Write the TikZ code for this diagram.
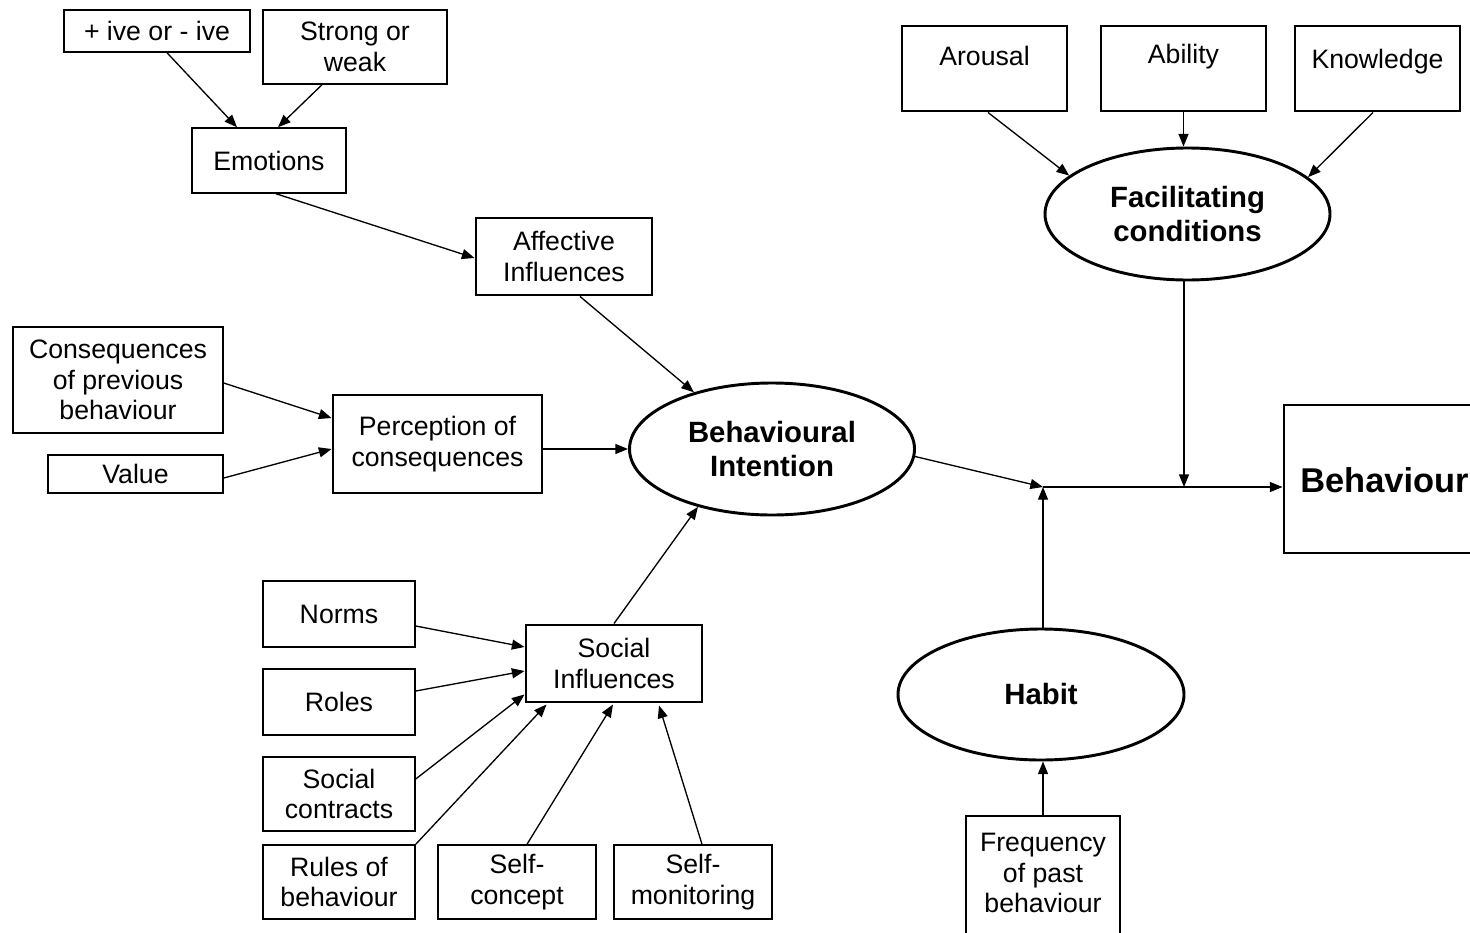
\documentclass[tikz,border=0pt]{standalone}
\usepackage{fontspec}
\setmainfont{Liberation Sans}
\usetikzlibrary{arrows.meta,calc,shapes.geometric}
\begin{document}
\begin{tikzpicture}[x=0.75pt,y=-0.75pt,
 txt/.style={font=\fontsize{20}{23}\selectfont, align=center, inner sep=0pt},
 thinbox/.style={txt, draw, line width=1.1pt, rectangle},
 thickbox/.style={txt, draw, line width=2.2pt, rectangle},
 oval/.style={ellipse, draw, line width=2.2pt, inner sep=0pt, font=\bfseries\fontsize{22}{25.5}\selectfont, align=center},
 sz/.style 2 args={minimum width=#1*0.75pt, minimum height=#2*0.75pt},
 arr/.style={-{Triangle[length=9.5pt,width=7.5pt]}, line width=1pt}]
\useasboundingbox (0,0) rectangle (1470,932);
% left top
\node[thinbox, sz={186}{42}] (pm) at (157,31) {+ ive or - ive};
\node[thinbox, sz={184}{74}] (strong) at (355,47) {Strong or\\weak};
\node[thinbox, sz={154}{65}] (emo) at (269,160.5) {Emotions};
\node[thickbox, sz={176}{77}] (aff) at (564,256.5) {Affective\\Influences};
\node[thinbox, sz={210}{106}] (cons) at (118,380) {Consequences\\of previous\\behaviour};
\node[thinbox, sz={175}{38}] (val) at (135.5,474) {Value};
\node[thickbox, sz={209}{98}] (perc) at (437.5,444) {Perception of\\consequences};
\node[oval, sz={285}{132}] (bi) at (772,449) {Behavioural\\Intention};
% right
\node[oval, sz={285}{132}] (fc) at (1187.5,214) {Facilitating\\conditions};
\node[oval, sz={286}{131}] (hab) at (1041,694.5) {Habit};
\node[thickbox, sz={165}{85}] (arou) at (984.5,68.5) {};
\node[txt] (aroutxt) at (984.5,55.5) {Arousal};
\node[thickbox, sz={165}{85}] (abil) at (1183.5,68.5) {};
\node[txt] (abiltxt) at (1183.5,57) {Ability};
\node[thickbox, sz={165}{85}] (know) at (1377.5,68.5) {};
\node[txt] (knowtxt) at (1377.5,62) {Knowledge};
\node[thickbox, sz={200}{148}] (beh) at (1384,479) {};
\node[font=\bfseries\fontsize{25.8}{30}\selectfont, anchor=west, inner sep=0pt] (behtxt) at (1300,480) {Behaviour};
\node[thickbox, sz={154}{130}] (freq) at (1043,881) {};
\node[txt] (freqtxt) at (1043,873) {Frequency\\of past\\behaviour};
% social
\node[thinbox, sz={152}{66}] (norms) at (339,614) {Norms};
\node[thinbox, sz={152}{66}] (roles) at (339,702) {Roles};
\node[thinbox, sz={152}{74}] (sc) at (339,794) {Social\\contracts};
\node[thinbox, sz={152}{74}] (rules) at (339,882) {Rules of\\behaviour};
\node[thinbox, sz={158}{74}] (scon) at (517,882) {Self-\\concept};
\node[thinbox, sz={158}{74}] (smon) at (693,882) {Self-\\monitoring};
\node[thickbox, sz={176}{77}] (si) at (614,663.5) {Social\\Influences};
% connectors
\draw[arr] ($(pm.south)+(10,0)$) -- ($(emo.north)+(-32,0)$);
\draw[arr] ($(strong.south)+(-33,0)$) -- ($(emo.north)+(9,0)$);
\draw[arr] ($(emo.south)+(7,0)$) -- ($(aff.west)+(0,1.5)$);
\draw[arr] ($(aff.south)+(16,0)$) -- (bi.144);
\draw[arr] ($(cons.east)+(0,3)$) -- ($(perc.west)+(0,-26)$);
\draw[arr] ($(val.east)+(0,4)$) -- ($(perc.west)+(0,5)$);
\draw[arr] (perc.east |- bi.west) -- (bi.west);
\draw[arr] (si.north) -- (bi.218);
\draw[arr] ($(norms.east)+(0,12)$) -- ($(si.west)+(0,-16.5)$);
\draw[arr] ($(roles.east)+(0,-11)$) -- ($(si.west)+(0,7.5)$);
\draw[arr] ($(sc.east)+(0,-15)$) -- ($(si.south west)+(0,-9)$);
\draw[arr] (rules.north east) -- ($(si.south west)+(22,1)$);
\draw[arr] ($(scon.north)+(10,0)$) -- ($(si.south)+(-1,1)$);
\draw[arr] ($(smon.north)+(9,0)$) -- ($(si.south)+(45,2)$);
\draw[arr] ($(arou.south)+(3.5,0)$) -- (fc.162.6);
\draw[arr] (abil.south) -- (abil.south |- fc.north);
\draw[arr] ($(know.south)+(-4.5,0)$) -- (fc.17.2);
\coordinate (j1) at (1043,487);
\coordinate (j2) at (1184,487);
\draw[arr] (fc.south -| j2) -- (j2);
\draw[arr] (bi.-3.5) -- (j1);
\draw[arr] (hab.north -| j1) -- (j1);
\draw[arr] (j1) -- (beh.west |- j1);
\draw[arr] (freq.north) -- (hab.south -| freq.north);
\end{tikzpicture}
\end{document}
